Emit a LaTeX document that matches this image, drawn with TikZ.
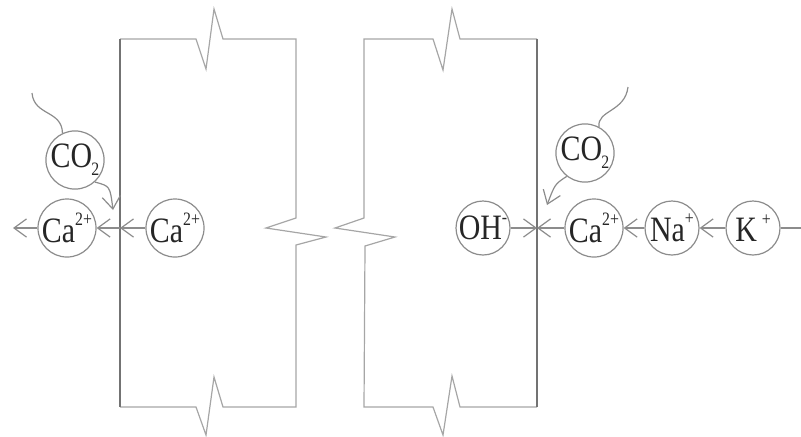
\documentclass[tikz,border=0pt]{standalone}
\usepackage{fontspec}
\setmainfont{Liberation Serif}
\usetikzlibrary{arrows.meta}
\tikzset{
  ion/.style={circle,draw=black!45,line width=0.6pt,minimum size=27pt,inner sep=0pt,text=black!85,font=\fontsize{17}{19}\selectfont},
  flow/.style={-{Straight Barb[length=2.2mm,width=3.2mm]},black!45,line width=0.6pt},
  link/.style={black!45,line width=0.6pt},
  wall/.style={black!55,line width=0.7pt},
  face/.style={black!35,line width=0.6pt},
}
\newcommand{\chg}[1]{\raisebox{1.0ex}{\fontsize{9}{9}\selectfont #1}}
\newcommand{\sub}[1]{\kern-0.5pt\raisebox{-0.5ex}{\fontsize{9}{9}\selectfont #1}}
\newcommand{\ionname}[1]{\scalebox{0.88}[1.05]{#1}}

\begin{document}
\begin{tikzpicture}[x=0.5pt,y=-0.5pt]
  \useasboundingbox (0,0) rectangle (801,436);
  % left block
  \draw[face] (120,39) -- (196,39) -- (206,69) -- (214,9) -- (223,39) -- (296,39)
    -- (296,218) -- (266,228) -- (326,237) -- (296,245) -- (296,407)
    -- (223,407) -- (214,377) -- (206,435) -- (196,407) -- (120,407);
  \draw[wall] (120,39) -- (120,407);
  % right block
  \draw[face] (537,39) -- (460,39) -- (452,9) -- (443,70) -- (433,39) -- (364,39)
    -- (364,218) -- (335,228) -- (395,237) -- (365,246) -- (364,407)
    -- (433,407) -- (443,435) -- (452,376) -- (460,407) -- (537,407);
  \draw[wall] (537,39) -- (537,407);
  \coordinate (wl) at (120,227);
  \coordinate (wr) at (537,227);

  % ions
  \node[ion] (co2L) at (75,160) {\ionname{CO\sub{2}}};
  \node[ion] (caL) at (67,228) {\ionname{Ca\chg{2+}}};
  \node[ion] (caIn) at (175,228) {\ionname{Ca\chg{2+}}};
  \node[ion] (oh) at (483,228) {\ionname{OH\chg{-}}};
  \node[ion] (co2R) at (585,153) {\ionname{CO\sub{2}}};
  \node[ion] (caR) at (594,228) {\ionname{Ca\chg{2+}}};
  \node[ion] (na) at (672,228) {\ionname{Na\chg{+}}};
  \node[ion] (k) at (753,228) {\ionname{K\,\chg{+}}};
  \coordinate (outL) at (13,228);
  \coordinate (outR) at (801,228);
  \coordinate (airL) at (32,93);
  \coordinate (airR) at (628,87);
  \coordinate (hitL) at (113,210);
  \coordinate (hitR) at (547,205);

  % flows
  \draw[flow] (caIn) -- (wl |- caIn);
  \draw[flow] (wl |- caIn) -- (caL);
  \draw[flow] (caL) -- (outL);
  \draw[flow] (oh) -- (wr |- oh);
  \draw[flow] (caR) -- (wr |- caR);
  \draw[flow] (na) -- (caR);
  \draw[flow] (k) -- (na);
  \draw[link] (k) -- (outR);

  % carbon dioxide in
  \draw[link] (airL) .. controls (34,116) and (62,110) .. (co2L.115);
  \draw[flow] (co2L.-48) .. controls (110,186) .. (hitL);
  \draw[link] (airR) .. controls (625,112) and (597,110) .. (co2R.62);
  \draw[flow] (co2R.-128) .. controls (555,184) .. (hitR);
\end{tikzpicture}
\end{document}
